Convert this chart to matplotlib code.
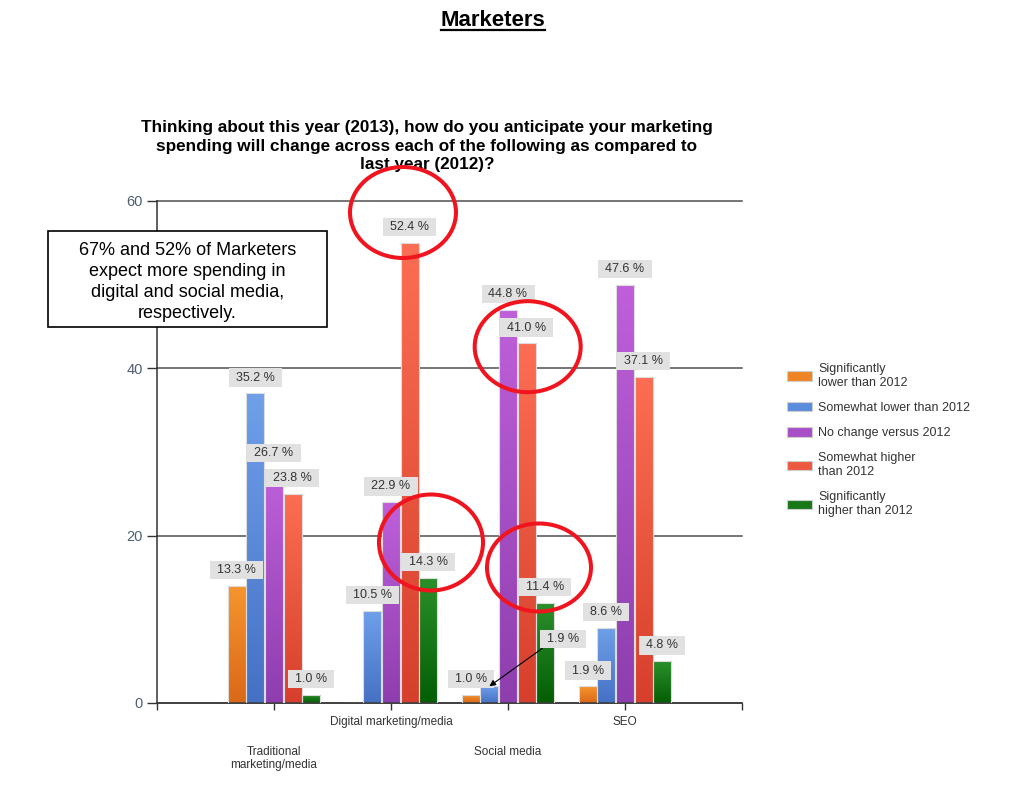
import matplotlib
matplotlib.use('Agg')
import matplotlib.pyplot as plt
import numpy as np
from matplotlib.patches import Patch, Ellipse, Rectangle
from matplotlib.colors import LinearSegmentedColormap
from matplotlib.lines import Line2D
from matplotlib.path import Path

plt.rcParams['font.family'] = ['Liberation Sans', 'DejaVu Sans']

# ---------------- data ----------------
categories = ['Traditional\nmarketing/media', 'Digital marketing/media', 'Social media', 'SEO']
series_names = ['Significantly\nlower than 2012', 'Somewhat lower than 2012',
                'No change versus 2012', 'Somewhat higher\nthan 2012',
                'Significantly\nhigher than 2012']
# number of respondents per answer (bar heights); labels show share of respondents
sig_lower = [14, 0, 1, 2]
some_lower = [37, 11, 2, 9]
no_change = [28, 24, 47, 50]
some_higher = [25, 55, 43, 39]
sig_higher = [1, 15, 12, 5]
respondents = 105
y_ticks = [0, 20, 40, 60]

title = 'Marketers'
question = ('Thinking about this year (2013), how do you anticipate your marketing\n'
            'spending will change across each of the following as compared to\n'
            'last year (2012)?')
note = '67% and 52% of Marketers\nexpect more spending in\ndigital and social media,\nrespectively.'

series_counts = [sig_lower, some_lower, no_change, some_higher, sig_higher]

# ---------------- style ----------------
top_colors = ['#f6962f', '#6fa0ea', '#bf60da', '#fc6e53', '#2b902b']
bottom_colors = ['#da6818', '#4571c4', '#8e3eae', '#d63f2c', '#045e04']
legend_colors = ['#ef8425', '#5b8cdc', '#a84fc8', '#ec5841', '#167816']
txt_col = '#333333'


def label_box(x0, y0, width, height, mutation_size):
    padx = 0.56 * mutation_size
    pady = 0.26 * mutation_size
    x0, y0 = x0 - padx, y0 - pady
    x1, y1 = x0 + width + 2 * padx, y0 + height + 2 * pady
    return Path([(x0, y0), (x1, y0), (x1, y1), (x0, y1), (x0, y0)], closed=True)


W, H = 1024, 791
fig = plt.figure(figsize=(W / 100, H / 100), dpi=100)
fig.patch.set_facecolor('white')
ax = fig.add_axes([157 / W, 1 - 703 / H, 585 / W, 502 / H])

x = np.arange(1, len(categories) + 1)
slot = 0.159
bw = 0.155
grad = np.linspace(1, 0, 256).reshape(-1, 1)

# callout label (series index, category index) -> offset in points
callouts = {(1, 2): (53, 34)}

for i, counts in enumerate(series_counts):
    cmap = LinearSegmentedColormap.from_list(f's{i}', [bottom_colors[i], top_colors[i]])
    offs = (i - 2) * slot
    bars = ax.bar(x + offs, counts, width=bw, facecolor='none',
                  edgecolor='#dcdcdc', linewidth=0.8, zorder=3)
    for j, b in enumerate(bars):
        h = b.get_height()
        if h <= 0:
            continue
        im = ax.imshow(grad, cmap=cmap, vmin=0, vmax=1,
                       extent=[b.get_x(), b.get_x() + b.get_width(), 0, h],
                       aspect='auto', origin='upper', zorder=2,
                       interpolation='bilinear')
        im.set_clip_path(b)
        label = f'{h / respondents * 100:.1f} %'
        xc = b.get_x() + b.get_width() / 2
        box = dict(boxstyle=label_box, fc='#e1e1e1', ec='none')
        if (i, j) in callouts:
            ax.annotate(label, (xc, h), xytext=callouts[(i, j)],
                        textcoords='offset points', ha='center', va='center',
                        fontsize=9, color=txt_col, bbox=box, zorder=6,
                        arrowprops=dict(arrowstyle='-|>', color='black', lw=0.8,
                                        shrinkA=0, shrinkB=0, relpos=(0, 0),
                                        mutation_scale=9))
        else:
            ax.annotate(label, (xc, h), xytext=(0, 7), textcoords='offset points',
                        ha='center', va='bottom', fontsize=9, color=txt_col,
                        bbox=box, zorder=6)

ax.set_xlim(0, len(categories) + 1)
ax.set_ylim(y_ticks[0], y_ticks[-1])
ax.set_yticks(y_ticks)
ax.set_xticks(np.arange(0, len(categories) + 2))
ax.set_xticklabels([])
ax.yaxis.grid(True, color='#505050', lw=1.1)
ax.set_axisbelow(True)
for gl in ax.get_ygridlines():
    gl.set_clip_on(False)
for s in ['top', 'right']:
    ax.spines[s].set_visible(False)
for s in ['left', 'bottom']:
    ax.spines[s].set_color('#333333')
    ax.spines[s].set_linewidth(1.1)
ax.tick_params(axis='x', length=5, width=1, color='#333333')
ax.tick_params(axis='y', length=7, width=1, color='#333333', labelsize=10.5,
               labelcolor='#4f5d75', pad=3)

for k, (xc, cat) in enumerate(zip(x, categories)):
    dy = -9.5 if k % 2 == 1 else -31
    ax.annotate(cat, (xc, 0), xytext=(0, dy), textcoords='offset points',
                ha='center', va='top', fontsize=8.5, color=txt_col,
                linespacing=1.05, annotation_clip=False)

# legend
handles = [Patch(facecolor=c, edgecolor='#cfcfcf', linewidth=0.8) for c in legend_colors]
fig.legend(handles, series_names, loc='upper left',
           bbox_to_anchor=(787 / W, 1 - 363 / H), frameon=False, fontsize=9,
           handlelength=2.0, handleheight=0.8, handletextpad=0.5,
           labelspacing=1.05, borderpad=0, borderaxespad=0, labelcolor=txt_col)

# titles
t = fig.text(493 / W, 1 - 26.5 / H, title, ha='center', va='baseline',
             fontsize=16, fontweight='bold', color='black')
fig.text(427 / W, 1 - 146 / H, question, ha='center', va='center',
         fontsize=12.3, fontweight='bold', color='black', linespacing=1.3)

# note box
fig.add_artist(Rectangle((48 / W, 1 - 327 / H), (327 - 48) / W, (327 - 231) / H,
                         transform=fig.transFigure, fc='white', ec='black',
                         lw=1.2, zorder=5))
fig.text(187.5 / W, 1 - 282 / H, note, ha='center', va='center', fontsize=13,
         color='black', linespacing=1.3, zorder=6)

# highlight ellipses
for cx, cy, ew, eh in [(403, 212.5, 110, 95), (527.7, 346.7, 110, 95),
                       (431, 542.5, 108, 100), (539, 567.5, 108, 92)]:
    fig.add_artist(Ellipse((cx / W, 1 - cy / H), (ew - 4) / W, (eh - 4) / H,
                           transform=fig.transFigure, fill=False,
                           ec='#f0141e', lw=2.9, zorder=10))

# underline title
fig.canvas.draw()
bb = t.get_window_extent(fig.canvas.get_renderer())
fig.add_artist(Line2D([bb.x0 / W, bb.x1 / W], [1 - 29.5 / H, 1 - 29.5 / H],
                      transform=fig.transFigure, color='black', lw=1.6))

fig.savefig('out.png', dpi=100)
